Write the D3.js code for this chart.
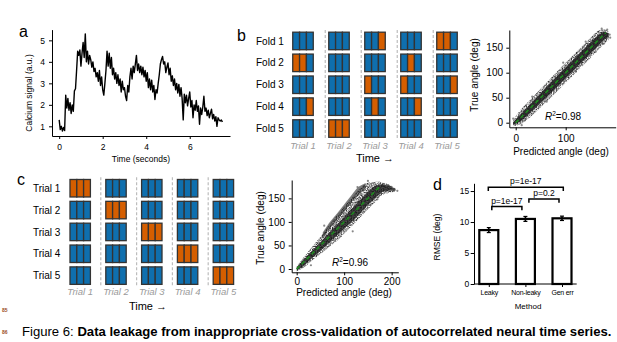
<!DOCTYPE html>
<html>
<head>
<meta charset="utf-8">
<script src="https://cdn.jsdelivr.net/npm/d3@7"></script>
<style>
  body { margin: 0; background: #fff; }
  svg { display: block; font-family: "Liberation Sans", Arial, Helvetica, sans-serif; }
</style>
</head>
<body>
<svg id="fig" width="617" height="342"></svg>
<script>
// ---- panel a: calcium trace, one sample every 0.05 s ----
var traceStep = 0.05;
var traceValues = [
  1.30,0.85,1.00,0.78,0.95,0.80,2.45,1.85,2.30,1.75,
  2.10,1.60,2.00,1.70,2.65,2.75,3.60,4.50,4.30,4.55,
  3.80,4.40,4.90,4.20,5.30,4.00,4.50,3.90,4.30,4.10,
  3.75,4.00,3.55,3.70,3.30,3.50,3.10,3.60,2.90,3.30,
  2.70,2.45,3.00,3.60,4.50,3.80,4.40,3.70,4.20,3.40,
  3.70,3.20,3.50,3.00,3.40,2.90,3.20,2.60,3.10,2.70,
  2.80,2.40,2.20,2.90,2.60,3.30,3.70,3.20,3.80,3.50,
  3.90,4.30,3.60,3.90,3.50,3.80,3.40,3.75,3.30,3.60,
  3.10,3.50,2.80,3.20,2.70,3.15,2.60,2.90,2.25,2.70,
  2.55,3.00,3.40,3.90,4.10,4.25,3.90,4.00,3.50,3.75,
  3.95,3.40,3.70,3.10,3.35,2.90,3.20,2.70,3.00,2.55,
  2.95,2.40,2.80,2.30,1.30,2.50,2.10,2.45,1.95,2.30,
  2.60,1.90,2.20,1.40,2.00,1.75,2.20,1.70,1.95,1.10,
  1.85,1.55,1.90,2.40,1.70,1.85,1.50,1.75,1.40,1.60,
  1.80,1.35,1.55,1.25,1.45,1.00,1.40,1.30,1.25,1.30,
  1.20
];
var traceXTicks = [0, 2, 4, 6];
var traceYTicks = [1, 2, 3, 4, 5];

// ---- panels b/c: train/test layout, 3 segments per trial, 1 = held out ----
var trials = ["Trial 1", "Trial 2", "Trial 3", "Trial 4", "Trial 5"];
var folds = ["Fold 1", "Fold 2", "Fold 3", "Fold 4", "Fold 5"];
var foldTestB = [
  "000 000 001 000 110",
  "110 000 000 010 000",
  "000 000 100 100 001",
  "001 000 010 001 000",
  "000 111 000 000 000"
];
var foldTestC = [
  "111 000 000 000 000",
  "000 111 000 000 000",
  "000 000 111 000 000",
  "000 000 000 111 000",
  "000 000 000 000 111"
];

// ---- decoded vs true angle (deg): extent of the point clouds ----
var r2B = 0.98;
var cloudPredB = [-5, 10, 30, 50, 70, 90, 110, 130, 150, 165, 178, 186];
var cloudLoB   = [-7, -3, 12, 31, 50, 70, 90, 110, 130, 146, 158, 166];
var cloudHiB   = [5, 26, 47, 68, 89, 110, 130, 150, 170, 184, 187, 182];
var coreLoB    = [-4, 3, 21, 40, 59, 79, 99, 119, 139, 154, 167, 171];
var coreHiB    = [1, 17, 38, 59, 80, 101, 121, 141, 161, 175, 182, 178];
var strayB = [[188,176],[183,186],[172,188],[189,170],[-5,8],[12,-5],[62,42],[95,120],[140,162],[160,142],[120,102],[33,52],[176,158]];
var identityB = [0, 180];

var r2C = 0.96;
var cloudPredC = [0, 15, 30, 45, 60, 75, 90, 105, 120, 135, 150, 165, 180, 195, 208];
var cloudLoC   = [-5, 3, 16, 28, 40, 52, 64, 80, 95, 111, 127, 142, 157, 162, 164];
var cloudHiC   = [6, 25, 44, 62, 82, 102, 120, 138, 156, 173, 183, 185, 184, 179, 171];
var coreLoC    = [-3, 7, 21, 34, 48, 62, 76, 90, 104, 120, 136, 150, 163, 166, 167];
var coreHiC    = [3, 20, 36, 52, 68, 84, 100, 116, 132, 148, 164, 176, 180, 176, 170];
var branchPredC = [55, 70, 85, 100, 115, 130, 145];
var branchLoC   = [66, 86, 104, 122, 141, 158, 171];
var branchHiC   = [78, 100, 118, 137, 156, 174, 182];
var strayC = [[200,168],[205,170],[212,166],[192,178],[150,187],[128,174],[58,92],[118,80],[30,8],[170,148]];
var identityC = [0, 175];
var angleTicksY = [0, 50, 100, 150];

// ---- panel d: RMSE per method ----
var methods = ["Leaky", "Non-leaky", "Gen err"];
var rmse = [8.7, 10.5, 10.6];
var rmseErr = [0.4, 0.4, 0.35];
var rmseTicks = [0, 5, 10, 15];
var brackets = [
  { a: "Leaky", b: "Non-leaky", h: 12.5, label: "p=1e-17" },
  { a: "Non-leaky", b: "Gen err", h: 13.7, label: "p=0.2" },
  { a: "Leaky", b: "Gen err", h: 15.6, label: "p=1e-17" }
];

var BLUE = "#0f6fae", ORANGE = "#d55e00", EDGE = "#333";

var svg = d3.select("#fig");
svg.append("rect").attr("width", 617).attr("height", 342).attr("fill", "#fff");
var defs = svg.append("defs");
defs.append("filter").attr("id", "soft")
  .attr("x", "-10%").attr("y", "-10%").attr("width", "120%").attr("height", "120%")
  .append("feGaussianBlur").attr("stdDeviation", 0.7);
// grainy texture for the loose edge of a point cloud
var grain = defs.append("filter").attr("id", "grain")
  .attr("x", "-5%").attr("y", "-5%").attr("width", "110%").attr("height", "110%");
grain.append("feTurbulence").attr("type", "fractalNoise").attr("baseFrequency", 0.8)
  .attr("numOctaves", 1).attr("seed", 4).attr("result", "noise");
grain.append("feColorMatrix").attr("in", "noise").attr("type", "matrix")
  .attr("values", "0 0 0 0 0  0 0 0 0 0  0 0 0 0 0  2.2 0 0 0 -0.65").attr("result", "mask");
grain.append("feComposite").attr("in", "SourceGraphic").attr("in2", "mask").attr("operator", "in")
  .attr("result", "speck");
grain.append("feGaussianBlur").attr("in", "speck").attr("stdDeviation", 0.5);

function styleAxis(sel, fs) {
  sel.attr("font-family", null).attr("font-size", fs);
  sel.select(".domain").attr("stroke", "#000").attr("stroke-width", 1);
  sel.selectAll(".tick line").attr("stroke", "#000");
  sel.selectAll(".tick text").attr("fill", "#000");
}

function vlabel(g, text, x, y, fs) {
  g.append("text")
    .attr("transform", "translate(" + x + "," + y + ") rotate(-90)")
    .attr("text-anchor", "middle").attr("dy", "0.35em")
    .attr("font-size", fs).text(text);
}

// panel letters
[["a", 19, 37], ["b", 237, 41], ["c", 17, 185], ["d", 433, 190]].forEach(function (p) {
  svg.append("text").attr("x", p[1]).attr("y", p[2]).attr("font-size", 16).text(p[0]);
});

// ================= panel a =================
(function () {
  var g = svg.append("g");
  var x = d3.scaleLinear().domain([-0.33, 7.85]).range([52, 230]);
  var y = d3.scaleLinear().domain([0.55, 5.5]).range([136, 29.6]);

  g.append("g").attr("transform", "translate(0,136)")
    .call(d3.axisBottom(x).tickValues(traceXTicks).tickFormat(d3.format("d"))
      .tickSize(3).tickSizeOuter(0).tickPadding(5))
    .call(styleAxis, 8.5);
  g.append("g").attr("transform", "translate(52,0)")
    .call(d3.axisLeft(y).tickValues(traceYTicks).tickFormat(d3.format("d"))
      .tickSize(3).tickSizeOuter(0).tickPadding(4))
    .call(styleAxis, 8.5);

  var line = d3.line()
    .x(function (d, i) { return x(i * traceStep); })
    .y(function (d) { return y(d); });
  g.append("path").datum(traceValues)
    .attr("d", line).attr("fill", "none")
    .attr("stroke", "#000").attr("stroke-width", 1.4).attr("stroke-linejoin", "round");

  g.append("text").attr("x", 141).attr("y", 162).attr("text-anchor", "middle")
    .attr("font-size", 8.5).text("Time (seconds)");
  vlabel(g, "Calcium signal (a.u.)", 29, 93, 8.5);
})();

// ================= panels b/c: split diagrams =================
function drawSplits(rows, pattern, o) {
  var g = svg.append("g");
  var yRow = d3.scaleBand().domain(rows)
    .range([o.top, o.top + 5 * o.rowStep]).paddingInner(0.2).paddingOuter(0.1);
  var xCol = d3.scaleBand().domain(trials)
    .range([o.left, o.left + 5 * o.colStep]).paddingInner(0.43).paddingOuter(0.215);
  var seg = xCol.bandwidth() / 3;
  var bottom = o.top + 5 * o.rowStep;

  // dashed separators between trials
  trials.slice(1).forEach(function (t) {
    g.append("line")
      .attr("x1", xCol(t) - o.dash).attr("x2", xCol(t) - o.dash)
      .attr("y1", o.top).attr("y2", bottom)
      .attr("stroke", "#bdbdbd").attr("stroke-width", 1.2).attr("stroke-dasharray", "3,2");
  });

  var cells = [];
  rows.forEach(function (r, ri) {
    var groups = pattern[ri].split(" ");
    trials.forEach(function (t, ti) {
      for (var k = 0; k < 3; k++) {
        cells.push({ row: r, trial: t, k: k, test: groups[ti][k] === "1" });
      }
    });
  });

  g.selectAll("rect.seg").data(cells).join("rect")
    .attr("class", "seg")
    .attr("x", function (d) { return xCol(d.trial) + d.k * seg; })
    .attr("y", function (d) { return yRow(d.row); })
    .attr("width", seg).attr("height", yRow.bandwidth())
    .attr("fill", function (d) { return d.test ? ORANGE : BLUE; })
    .attr("stroke", EDGE).attr("stroke-width", 1.3);

  g.selectAll("text.row").data(rows).join("text")
    .attr("class", "row")
    .attr("x", o.labelX).attr("y", function (d) { return yRow(d) + yRow.bandwidth() / 2 + 3.6; })
    .attr("font-size", 10).text(function (d) { return d; });

  g.selectAll("text.trial").data(trials).join("text")
    .attr("class", "trial")
    .attr("x", function (d) { return xCol(d) + xCol.bandwidth() / 2; })
    .attr("y", o.trialY).attr("text-anchor", "middle")
    .attr("font-size", 9.5).attr("font-style", "italic").attr("fill", "#9a9a9a")
    .text(function (d) { return d; });

  g.append("text").attr("x", o.timeX).attr("y", o.timeY).attr("text-anchor", "middle")
    .attr("font-size", 11).text("Time \u2192");
}

drawSplits(folds, foldTestB, {
  top: 30, rowStep: 21.9, left: 285, colStep: 36, dash: 3.5,
  labelX: 256, trialY: 149, timeX: 375, timeY: 161.5
});
drawSplits(trials, foldTestC, {
  top: 177.3, rowStep: 21.85, left: 62.3, colStep: 35.8, dash: 5,
  labelX: 33, trialY: 295, timeX: 148, timeY: 309.5
});

// ================= decoded-angle scatter =================
function drawScatter(o) {
  var g = svg.append("g");
  var x = d3.scaleLinear().domain(o.xDomain).range(o.xRange);
  var y = d3.scaleLinear().domain(o.yDomain).range(o.yRange);

  var area = d3.area()
    .x(function (d) { return x(d.p); })
    .y0(function (d) { return y(d.lo); })
    .y1(function (d) { return y(d.hi); })
    .curve(d3.curveCatmullRom);
  function band(pred, lo, hi) {
    return pred.map(function (p, i) { return { p: p, lo: lo[i], hi: hi[i] }; });
  }

  // loose outer spread, speckled
  g.append("path").datum(band(o.pred, o.lo, o.hi))
    .attr("d", area).attr("fill", "#2a2a2a").attr("filter", "url(#grain)");
  // dense core
  var core = g.append("g").attr("filter", "url(#soft)");
  o.cores.forEach(function (c) {
    core.append("path").datum(band(c[0], c[1], c[2]))
      .attr("d", area).attr("fill", "#161616").attr("opacity", c[3]);
  });
  g.selectAll("circle").data(o.stray).join("circle")
    .attr("cx", function (d) { return x(d[0]); })
    .attr("cy", function (d) { return y(d[1]); })
    .attr("r", 1.1).attr("fill", "#555").attr("opacity", 0.7);

  g.append("line")
    .attr("x1", x(o.identity[0])).attr("y1", y(o.identity[0]))
    .attr("x2", x(o.identity[1])).attr("y2", y(o.identity[1]))
    .attr("stroke", "#1e8c1e").attr("stroke-width", 1.6).attr("stroke-dasharray", "4,3");

  g.append("g").attr("transform", "translate(0," + o.yRange[0] + ")")
    .call(d3.axisBottom(x).tickValues(o.xTicks).tickSize(3).tickSizeOuter(0).tickPadding(o.xPad))
    .call(styleAxis, 10);
  g.append("g").attr("transform", "translate(" + o.xRange[0] + ",0)")
    .call(d3.axisLeft(y).tickValues(angleTicksY).tickSize(3).tickSizeOuter(0).tickPadding(o.yPad))
    .call(styleAxis, 10);

  var t = g.append("text").attr("x", o.r2X).attr("y", o.r2Y).attr("font-size", 10);
  t.append("tspan").attr("font-style", "italic").text("R");
  t.append("tspan").attr("font-size", 6.5).attr("dy", -4).text("2");
  t.append("tspan").attr("dy", 4).text("=" + o.r2.toFixed(2));

  g.append("text").attr("x", o.xLabel[0]).attr("y", o.xLabel[1]).attr("text-anchor", "middle")
    .attr("font-size", 10).text("Predicted angle (deg)");
  vlabel(g, "True angle (deg)", o.yLabel[0], o.yLabel[1], 10);
}

drawScatter({
  xDomain: [-12.8, 200], xRange: [509.3, 615.7],
  yDomain: [-9.2, 185.4], yRange: [127.3, 30],
  xTicks: [0, 100], xPad: 4.5, yPad: 3.3,
  pred: cloudPredB, lo: cloudLoB, hi: cloudHiB,
  cores: [[cloudPredB, coreLoB, coreHiB, 0.85]],
  stray: strayB, identity: identityB,
  r2: r2B, r2X: 545, r2Y: 120,
  xLabel: [561, 155], yLabel: [474, 75]
});

drawScatter({
  xDomain: [-10.5, 214], xRange: [291.7, 398.3],
  yDomain: [-7, 189], yRange: [272.3, 180],
  xTicks: [0, 100, 200], xPad: 2.3, yPad: 3.7,
  pred: cloudPredC, lo: cloudLoC, hi: cloudHiC,
  cores: [[cloudPredC, coreLoC, coreHiC, 0.75], [branchPredC, branchLoC, branchHiC, 0.55]],
  stray: strayC, identity: identityC,
  r2: r2C, r2X: 332, r2Y: 265.5,
  xLabel: [344, 295.5], yLabel: [260, 228]
});

// ================= panel d: RMSE bars =================
(function () {
  var g = svg.append("g");
  var y = d3.scaleLinear().domain([0, 16.25]).range([284, 183.3]);
  var x = d3.scalePoint().domain(methods).range([488.8, 562]);
  var bw = 19;

  g.selectAll("rect.bar").data(methods).join("rect")
    .attr("class", "bar")
    .attr("x", function (d) { return x(d) - bw / 2; })
    .attr("y", function (d, i) { return y(rmse[i]); })
    .attr("width", bw)
    .attr("height", function (d, i) { return y(0) - y(rmse[i]); })
    .attr("fill", "#fff").attr("stroke", "#000").attr("stroke-width", 2.2);

  methods.forEach(function (m, i) {
    var lo = y(rmse[i] - rmseErr[i]), hi = y(rmse[i] + rmseErr[i]);
    g.append("line").attr("x1", x(m)).attr("x2", x(m)).attr("y1", lo).attr("y2", hi)
      .attr("stroke", "#000").attr("stroke-width", 1.6);
    [lo, hi].forEach(function (yy) {
      g.append("line").attr("x1", x(m) - 2).attr("x2", x(m) + 2).attr("y1", yy).attr("y2", yy)
        .attr("stroke", "#000").attr("stroke-width", 1.2);
    });
  });

  var axX = g.append("g").attr("transform", "translate(0,284)")
    .call(d3.axisBottom(x).tickSize(3).tickPadding(3.5))
    .call(styleAxis, 7);
  axX.select(".domain").remove();
  axX.selectAll(".tick text").attr("letter-spacing", -0.25);
  g.append("line").attr("x1", 474).attr("x2", 576.7).attr("y1", 284).attr("y2", 284)
    .attr("stroke", "#000").attr("stroke-width", 1);

  g.append("g").attr("transform", "translate(474,0)")
    .call(d3.axisLeft(y).tickValues(rmseTicks).tickSize(3.3).tickSizeOuter(0).tickPadding(1.5))
    .call(styleAxis, 8.5);

  // significance brackets
  var inset = [[3, 3.5], [3.5, 3], [-0.5, -1.3]];
  brackets.forEach(function (b, i) {
    var x1 = x(b.a) + inset[i][0], x2 = x(b.b) - inset[i][1], yy = y(b.h);
    g.append("path")
      .attr("d", "M" + x1 + "," + (yy + 3.7) + "V" + yy + "H" + x2 + "V" + (yy + 3.7))
      .attr("fill", "none").attr("stroke", "#000").attr("stroke-width", 1.5);
    g.append("text").attr("x", (x1 + x2) / 2).attr("y", yy - 3)
      .attr("text-anchor", "middle").attr("font-size", 8.5).text(b.label);
  });

  vlabel(g, "RMSE (deg)", 437, 237, 8.5);
  g.append("text").attr("x", 528).attr("y", 309).attr("text-anchor", "middle")
    .attr("font-size", 8).text("Method");
})();

// ================= caption and line numbers =================
[["85", 311.5], ["86", 333.5]].forEach(function (n) {
  svg.append("text").attr("x", 2).attr("y", n[1]).attr("font-size", 5)
    .attr("font-weight", "bold").attr("fill", "#9a4a1a").text(n[0]);
});

var cap = svg.append("text").attr("x", 22).attr("y", 336).attr("font-size", 12);
cap.append("tspan").text("Figure 6: ");
cap.append("tspan").attr("font-weight", "bold")
  .text("Data leakage from inappropriate cross-validation of autocorrelated neural time series.");
var capW = cap.node().getComputedTextLength();
cap.attr("font-size", 12 * 590 / capW);
</script>
</body>
</html>
